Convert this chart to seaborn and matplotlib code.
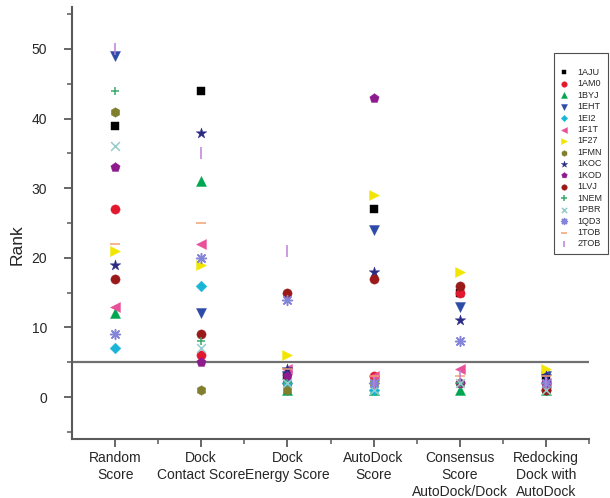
import numpy as np
import pandas as pd
import matplotlib
matplotlib.use("Agg")
import matplotlib.pyplot as plt
import seaborn as sns
from matplotlib.ticker import FixedLocator

# Scoring methods on the x axis
categories = [
    "Random\nScore",
    "Dock\nContact Score",
    "Dock\nEnergy Score",
    "AutoDock\nScore",
    "Consensus\nScore\nAutoDock/Dock",
    "Redocking\nDock with\nAutoDock",
]

# Rank of the native ligand per complex, one value per scoring method
rank_1AJU = [39, 44, 3, 27, 15, 3]
rank_1AM0 = [27, 6, 2, 3, 15, 2]
rank_1BYJ = [12, 31, 1, 1, 1, 1]
rank_1EHT = [49, 12, 3, 24, 13, 3]
rank_1EI2 = [7, 16, 2, 1, 2, 1]
rank_1F1T = [13, 22, 4, 3, 4, 2]
rank_1F27 = [21, 19, 6, 29, 18, 4]
rank_1FMN = [41, 1, 1, 2, 2, 1]
rank_1KOC = [19, 38, 4, 18, 11, 3]
rank_1KOD = [33, 5, 3, 43, 2, 2]
rank_1LVJ = [17, 9, 15, 17, 16, 1]
rank_1NEM = [44, 8, 2, 2, 2, 2]
rank_1PBR = [36, 7, 2, 1, 2, 1]
rank_1QD3 = [9, 20, 14, 2, 8, 2]
rank_1TOB = [22, 25, 4, 3, 3, 3]
rank_2TOB = [50, 35, 21, 2, 3, 2]

complexes = ["1AJU", "1AM0", "1BYJ", "1EHT", "1EI2", "1F1T", "1F27", "1FMN",
             "1KOC", "1KOD", "1LVJ", "1NEM", "1PBR", "1QD3", "1TOB", "2TOB"]
ranks = [rank_1AJU, rank_1AM0, rank_1BYJ, rank_1EHT, rank_1EI2, rank_1F1T,
         rank_1F27, rank_1FMN, rank_1KOC, rank_1KOD, rank_1LVJ, rank_1NEM,
         rank_1PBR, rank_1QD3, rank_1TOB, rank_2TOB]

cutoff = 5

# marker, colour, size (pt^2)
styles = {
    "1AJU": ("s", "#000000", 34),
    "1AM0": ("o", "#e3172d", 44),
    "1BYJ": ("^", "#00a650", 52),
    "1EHT": ("v", "#2c4aa8", 52),
    "1EI2": ("D", "#19b5d6", 30),
    "1F1T": ("<", "#e8519a", 52),
    "1F27": (">", "#f2e600", 52),
    "1FMN": ("h", "#7f7f2e", 48),
    "1KOC": ("*", "#2b2b86", 64),
    "1KOD": ("p", "#8e1b8e", 50),
    "1LVJ": ("o", "#9a1a1a", 44),
    "1NEM": ("+", "#3aa96b", 40),
    "1PBR": ("x", "#96cccc", 40),
    "1QD3": ((8, 2, 0), "#8484d8", 50),
    "1TOB": ("_", "#f2a070", 50),
    "2TOB": ("|", "#c07fd8", 70),
}

sns.set_theme(style="ticks")
plt.rcParams["font.family"] = ["Liberation Sans", "DejaVu Sans"]

fig = plt.figure(figsize=(6.1, 4.98), dpi=100)
ax = fig.add_axes([72 / 610, 1 - 438.8 / 498, (589 - 72) / 610, (438.8 - 7.2) / 498])

positions = np.arange(1, len(categories) + 1)
for name, vals in zip(complexes, ranks):
    marker, color, size = styles[name]
    df = pd.DataFrame({"method": positions, "rank": vals})
    mstyle = matplotlib.markers.MarkerStyle(marker)
    kw = dict(marker=marker, color=color, s=size, ax=ax, label=name, zorder=3)
    if mstyle.is_filled():
        kw.update(edgecolor=color, linewidth=0.3)
    else:
        kw.update(linewidth=1.1)
    sns.scatterplot(data=df, x="method", y="rank", **kw)

ax.axhline(cutoff, color="#707070", lw=1.6, zorder=2)

ax.set_xlim(0.5, 6.5)
ax.set_ylim(-6, 56)
ax.xaxis.set_major_locator(FixedLocator(positions))
ax.xaxis.set_minor_locator(FixedLocator(positions + 0.5))
ax.set_xticklabels(categories, fontsize=10, linespacing=1.25)
ax.yaxis.set_major_locator(FixedLocator([0, 10, 20, 30, 40, 50]))
ax.yaxis.set_minor_locator(FixedLocator([-5, 5, 15, 25, 35, 45, 55]))
ax.set_xlabel("")
ax.set_ylabel("Rank", fontsize=12.5)
ax.yaxis.set_label_coords(-0.092, 0.45)

spine_color = "#5a5a5a"
for side in ["top", "right"]:
    ax.spines[side].set_visible(False)
for side in ["left", "bottom"]:
    ax.spines[side].set_color(spine_color)
    ax.spines[side].set_linewidth(1.5)
ax.tick_params(which="major", direction="out", length=6, width=1.3, color=spine_color)
ax.tick_params(which="minor", direction="out", length=3.5, width=1.1, color=spine_color)
ax.tick_params(axis="x", which="major", pad=3)
ax.tick_params(axis="y", which="major", labelsize=10, pad=12)

handles, labels = ax.get_legend_handles_labels()
leg = ax.legend(handles, labels, loc="upper left",
                bbox_to_anchor=(554 / 610, 1 - 53 / 498), bbox_transform=fig.transFigure,
                fontsize=6.5, markerscale=0.6, handlelength=1.0, handletextpad=1.0,
                labelspacing=0.27, borderpad=0.6, borderaxespad=0,
                title=" ", title_fontsize=6,
                frameon=True, fancybox=False, edgecolor="#222222")
leg.get_frame().set_linewidth(0.8)

fig.savefig("out.png", dpi=100)
